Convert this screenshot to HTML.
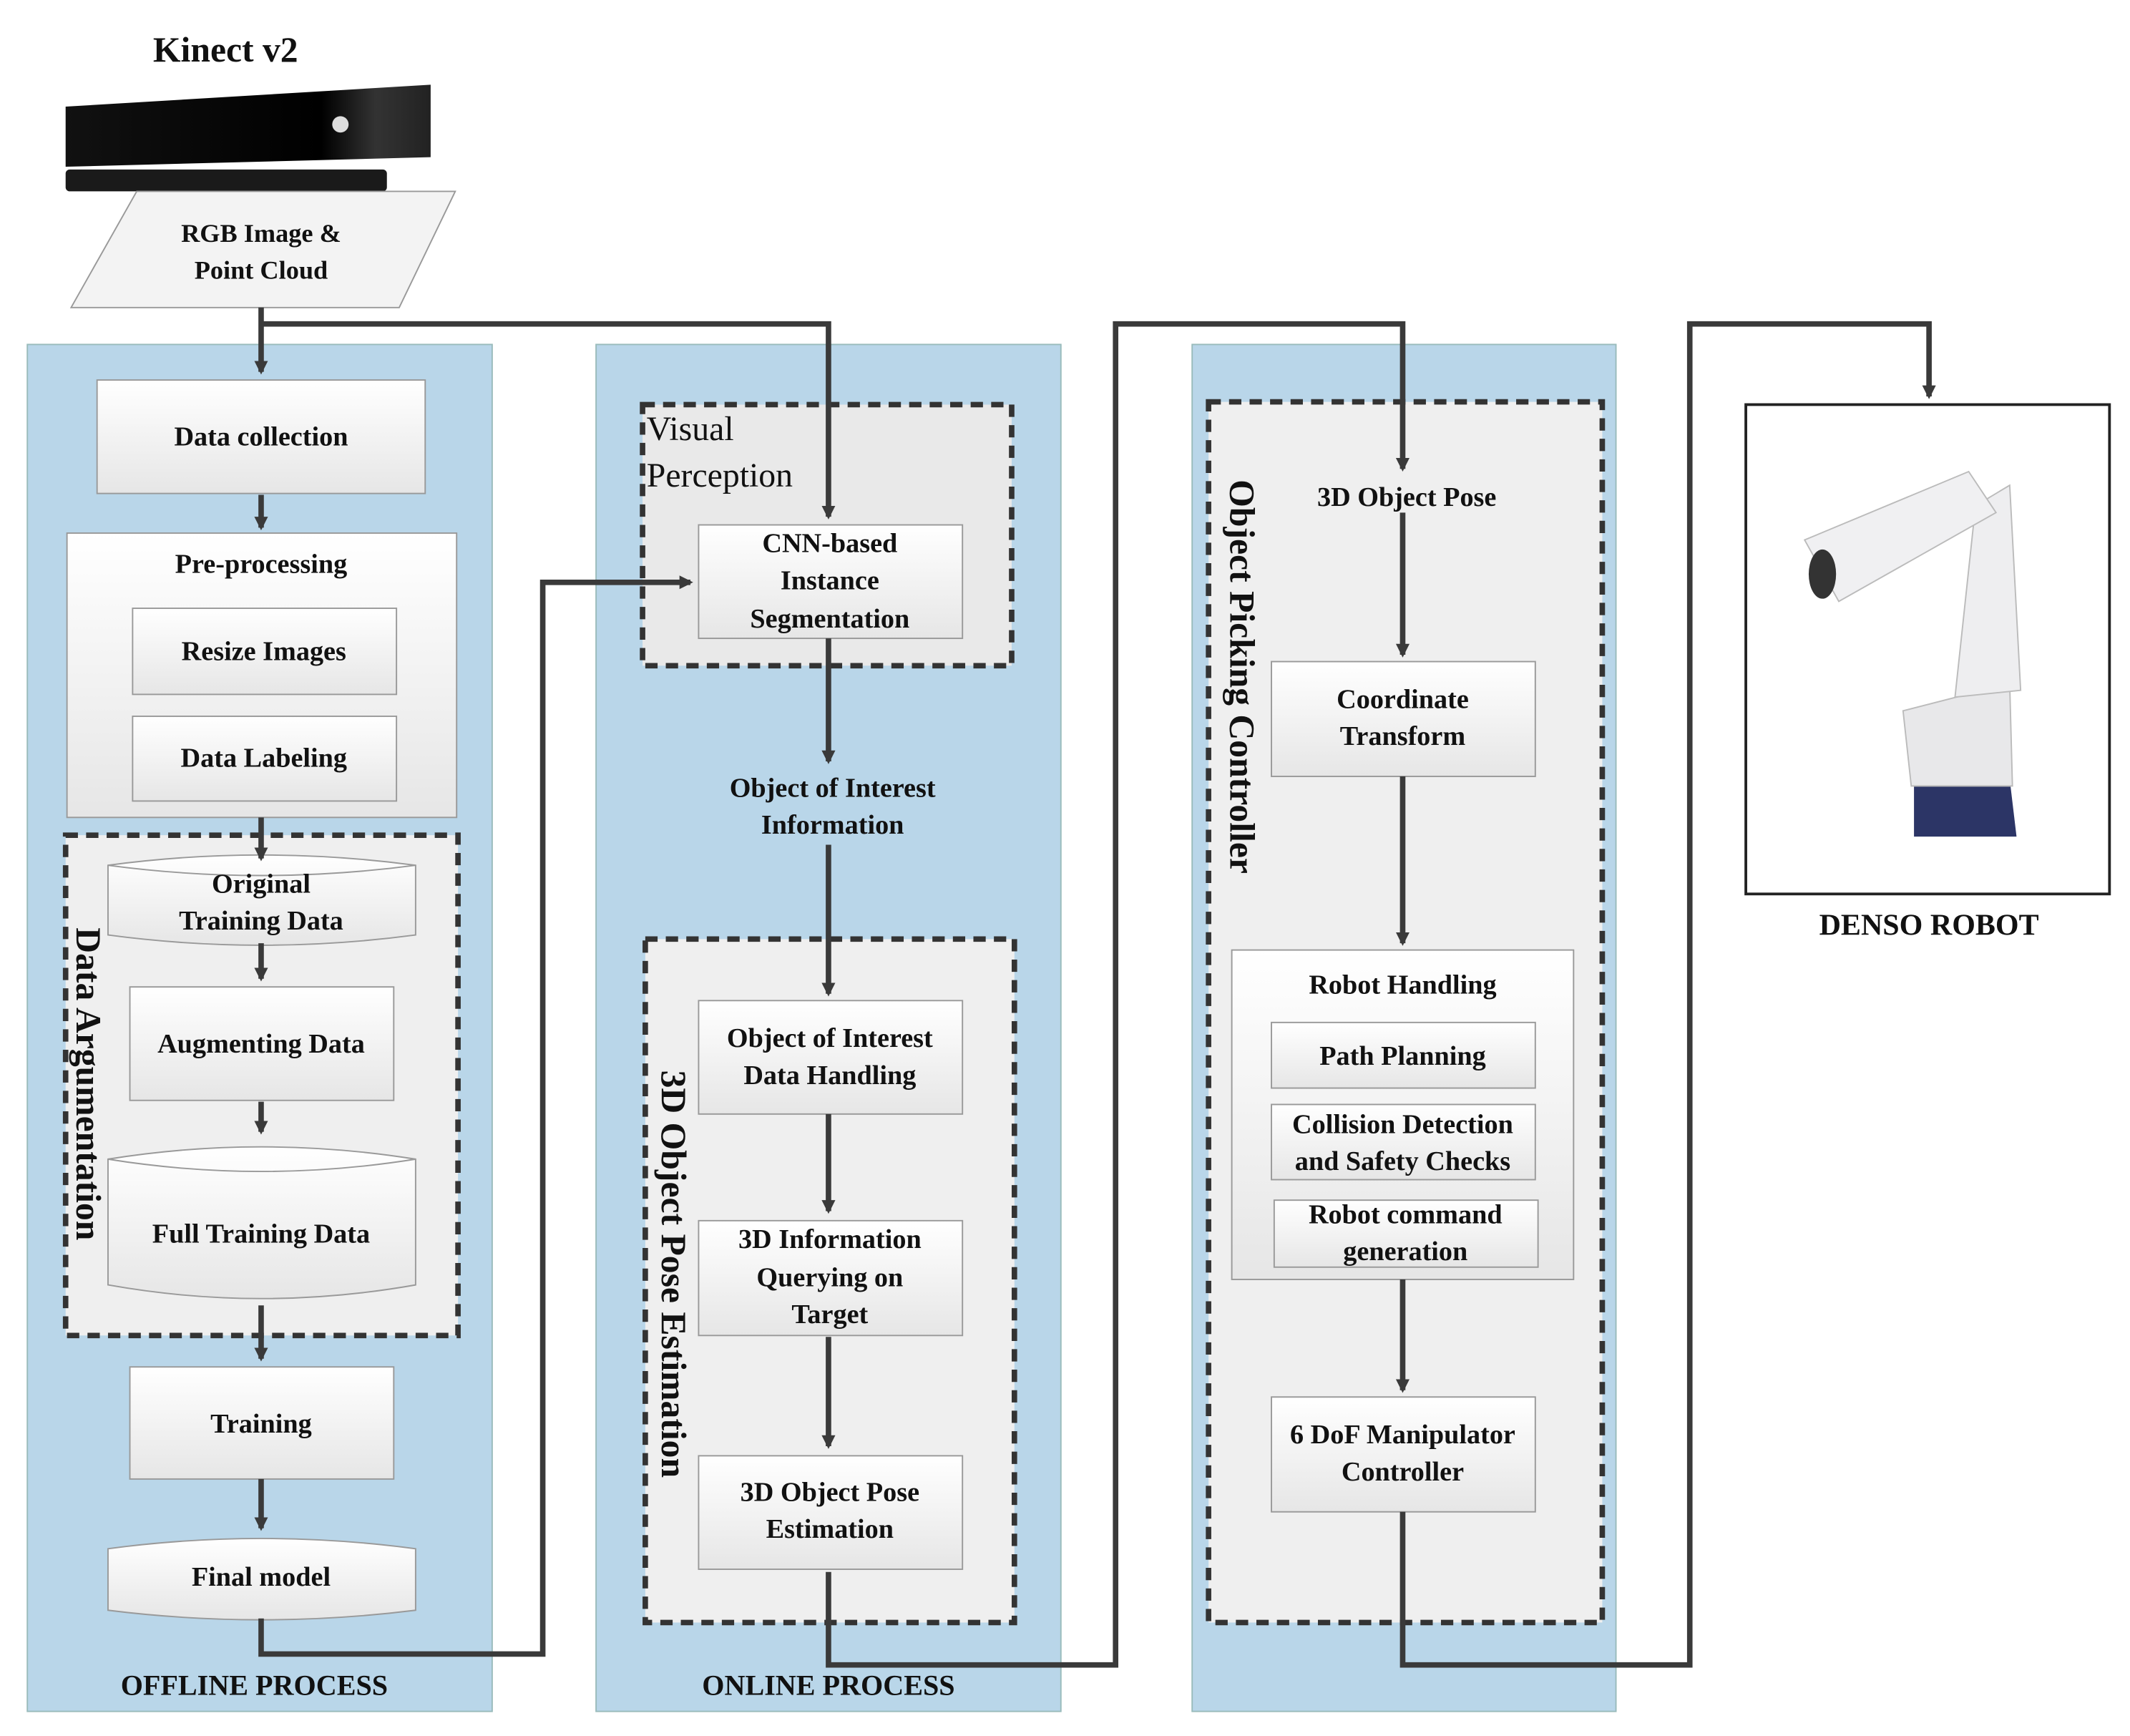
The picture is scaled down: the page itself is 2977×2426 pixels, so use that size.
<!DOCTYPE html>
<html><head><meta charset="utf-8"><style>
html,body{margin:0;padding:0;background:#fff;}
svg{display:block;}
text{font-family:"Liberation Serif",serif;font-weight:bold;fill:#111;}
</style></head><body>
<svg width="2977" height="2426" viewBox="0 0 1558 1270" preserveAspectRatio="none" xmlns="http://www.w3.org/2000/svg">
<defs>
<linearGradient id="bx" x1="0" y1="0" x2="0" y2="1"><stop offset="0" stop-color="#ffffff"/><stop offset="1" stop-color="#e6e6e6"/></linearGradient>
<linearGradient id="kn" x1="0" y1="0" x2="1" y2="0"><stop offset="0" stop-color="#111"/><stop offset="0.7" stop-color="#000"/><stop offset="0.85" stop-color="#333"/><stop offset="1" stop-color="#222"/></linearGradient>
<marker id="ar" markerWidth="10" markerHeight="10" refX="8" refY="5" orient="auto" markerUnits="userSpaceOnUse"><path d="M0,0 L10,5 L0,10 Z" fill="#3a3a3a"/></marker>
</defs>
<!-- panels -->
<rect x="20" y="252" width="340" height="1000" fill="#b9d6e9" stroke="#9bb" stroke-width="1"/>
<rect x="436" y="252" width="340" height="1000" fill="#b9d6e9" stroke="#9bb" stroke-width="1"/>
<rect x="872" y="252" width="310" height="1000" fill="#b9d6e9" stroke="#9bb" stroke-width="1"/>
<text x="186" y="1240" font-size="21" text-anchor="middle">OFFLINE PROCESS</text>
<text x="606" y="1240" font-size="21" text-anchor="middle">ONLINE PROCESS</text>

<!-- Kinect -->
<text x="165" y="45" font-size="26" text-anchor="middle">Kinect v2</text>
<path d="M48,78 L315,62 L315,115 L48,122 Z" fill="url(#kn)"/>
<rect x="48" y="124" width="235" height="16" rx="3" fill="#1a1a1a"/>
<circle cx="249" cy="91" r="6" fill="#ddd"/>
<path d="M52,225 L100,140 L333,140 L292,225 Z" fill="#f3f3f3" stroke="#999" stroke-width="1"/>
<text x="191" y="177" font-size="19" text-anchor="middle">RGB Image &amp;</text>
<text x="191" y="204" font-size="19" text-anchor="middle">Point Cloud</text>

<!-- offline boxes -->
<rect x="71" y="278" width="240" height="83" fill="url(#bx)" stroke="#999"/>
<text x="191" y="326" font-size="20" text-anchor="middle">Data collection</text>
<rect x="49" y="390" width="285" height="208" fill="url(#bx)" stroke="#999"/>
<text x="191" y="419" font-size="20" text-anchor="middle">Pre-processing</text>
<rect x="97" y="445" width="193" height="63" fill="url(#bx)" stroke="#999"/>
<text x="193" y="483" font-size="20" text-anchor="middle">Resize Images</text>
<rect x="97" y="524" width="193" height="62" fill="url(#bx)" stroke="#999"/>
<text x="193" y="561" font-size="20" text-anchor="middle">Data Labeling</text>
<rect x="48" y="611" width="287" height="366" fill="#efefef" stroke="#333" stroke-width="4" stroke-dasharray="9,6"/>
<text transform="translate(56,793) rotate(90)" font-size="26" text-anchor="middle">Data Argumentation</text>
<path d="M79,633 Q191,618 304,633 L304,684 Q191,699 79,684 Z" fill="url(#bx)" stroke="#999"/>
<path d="M79,633 Q191,648 304,633" fill="none" stroke="#999"/>
<text x="191" y="653" font-size="20" text-anchor="middle">Original</text>
<text x="191" y="680" font-size="20" text-anchor="middle">Training Data</text>
<rect x="95" y="722" width="193" height="83" fill="url(#bx)" stroke="#999"/>
<text x="191" y="770" font-size="20" text-anchor="middle">Augmenting Data</text>
<path d="M79,848 Q191,830 304,848 L304,940 Q191,960 79,940 Z" fill="url(#bx)" stroke="#999"/>
<path d="M79,848 Q191,866 304,848" fill="none" stroke="#999"/>
<text x="191" y="909" font-size="20" text-anchor="middle">Full Training Data</text>
<rect x="95" y="1000" width="193" height="82" fill="url(#bx)" stroke="#999"/>
<text x="191" y="1048" font-size="20" text-anchor="middle">Training</text>
<path d="M79,1133 Q191,1118 304,1133 L304,1178 Q191,1192 79,1178 Z" fill="url(#bx)" stroke="#999"/>
<text x="191" y="1160" font-size="20" text-anchor="middle">Final model</text>

<!-- online -->
<rect x="470" y="296" width="270" height="191" fill="#e9e9e9" stroke="#333" stroke-width="4" stroke-dasharray="9,6"/>
<text x="473" y="322" font-size="25" style="font-weight:normal">Visual</text>
<text x="473" y="356" font-size="25" style="font-weight:normal">Perception</text>
<rect x="511" y="384" width="193" height="83" fill="url(#bx)" stroke="#999"/>
<text x="607" y="404" font-size="20" text-anchor="middle">CNN-based</text>
<text x="607" y="431" font-size="20" text-anchor="middle">Instance</text>
<text x="607" y="459" font-size="20" text-anchor="middle">Segmentation</text>
<text x="609" y="583" font-size="20" text-anchor="middle">Object of Interest</text>
<text x="609" y="610" font-size="20" text-anchor="middle">Information</text>
<rect x="472" y="687" width="270" height="500" fill="#efefef" stroke="#333" stroke-width="4" stroke-dasharray="9,6"/>
<text transform="translate(484,932) rotate(90)" font-size="26" text-anchor="middle">3D Object Pose Estimation</text>
<rect x="511" y="732" width="193" height="83" fill="url(#bx)" stroke="#999"/>
<text x="607" y="766" font-size="20" text-anchor="middle">Object of Interest</text>
<text x="607" y="793" font-size="20" text-anchor="middle">Data Handling</text>
<rect x="511" y="893" width="193" height="84" fill="url(#bx)" stroke="#999"/>
<text x="607" y="913" font-size="20" text-anchor="middle">3D Information</text>
<text x="607" y="941" font-size="20" text-anchor="middle">Querying on</text>
<text x="607" y="968" font-size="20" text-anchor="middle">Target</text>
<rect x="511" y="1065" width="193" height="83" fill="url(#bx)" stroke="#999"/>
<text x="607" y="1098" font-size="20" text-anchor="middle">3D Object Pose</text>
<text x="607" y="1125" font-size="20" text-anchor="middle">Estimation</text>

<!-- controller -->
<rect x="884" y="294" width="288" height="893" fill="#efefef" stroke="#333" stroke-width="4" stroke-dasharray="9,6"/>
<text transform="translate(900,495) rotate(90)" font-size="26" text-anchor="middle">Object Picking Controller</text>
<text x="1029" y="370" font-size="20" text-anchor="middle">3D Object Pose</text>
<rect x="930" y="484" width="193" height="84" fill="url(#bx)" stroke="#999"/>
<text x="1026" y="518" font-size="20" text-anchor="middle">Coordinate</text>
<text x="1026" y="545" font-size="20" text-anchor="middle">Transform</text>
<rect x="901" y="695" width="250" height="241" fill="url(#bx)" stroke="#999"/>
<text x="1026" y="727" font-size="20" text-anchor="middle">Robot Handling</text>
<rect x="930" y="748" width="193" height="48" fill="url(#bx)" stroke="#999"/>
<text x="1026" y="779" font-size="20" text-anchor="middle">Path Planning</text>
<rect x="930" y="808" width="193" height="55" fill="url(#bx)" stroke="#999"/>
<text x="1026" y="829" font-size="20" text-anchor="middle">Collision Detection</text>
<text x="1026" y="856" font-size="20" text-anchor="middle">and Safety Checks</text>
<rect x="932" y="878" width="193" height="49" fill="url(#bx)" stroke="#999"/>
<text x="1028" y="895" font-size="20" text-anchor="middle">Robot command</text>
<text x="1028" y="922" font-size="20" text-anchor="middle">generation</text>
<rect x="930" y="1022" width="193" height="84" fill="url(#bx)" stroke="#999"/>
<text x="1026" y="1056" font-size="20" text-anchor="middle">6 DoF Manipulator</text>
<text x="1026" y="1083" font-size="20" text-anchor="middle">Controller</text>

<!-- robot -->
<rect x="1277" y="296" width="266" height="358" fill="#fff" stroke="#222" stroke-width="2"/>
<path d="M1400,570 L1470,570 L1475,612 L1400,612 Z" fill="#2c3566"/>
<path d="M1392,520 L1470,500 L1472,575 L1398,575 Z" fill="#e8e8ea" stroke="#bbb"/>
<path d="M1430,510 L1445,370 L1470,355 L1478,505 Z" fill="#eeeef0" stroke="#bbb"/>
<path d="M1320,395 L1440,345 L1460,375 L1345,440 Z" fill="#f0f0f2" stroke="#bbb"/>
<ellipse cx="1333" cy="420" rx="10" ry="18" fill="#333"/>
<text x="1411" y="684" font-size="22" text-anchor="middle">DENSO ROBOT</text>

<!-- connectors on top -->
<g fill="none" stroke="#3a3a3a" stroke-width="4">
<path d="M191,225 L191,272" marker-end="url(#ar)"/>
<path d="M191,237 L606,237 L606,378" marker-end="url(#ar)"/>
<path d="M191,362 L191,386" marker-end="url(#ar)"/>
<path d="M191,598 L191,628" marker-end="url(#ar)"/>
<path d="M191,690 L191,716" marker-end="url(#ar)"/>
<path d="M191,806 L191,828" marker-end="url(#ar)"/>
<path d="M191,955 L191,994" marker-end="url(#ar)"/>
<path d="M191,1082 L191,1118" marker-end="url(#ar)"/>
<path d="M191,1184 L191,1210 L397,1210 L397,426 L505,426" marker-end="url(#ar)"/>
<path d="M606,467 L606,557" marker-end="url(#ar)"/>
<path d="M606,618 L606,727" marker-end="url(#ar)"/>
<path d="M606,815 L606,886" marker-end="url(#ar)"/>
<path d="M606,978 L606,1058" marker-end="url(#ar)"/>
<path d="M606,1150 L606,1218 L816,1218 L816,237 L1026,237 L1026,343" marker-end="url(#ar)"/>
<path d="M1026,375 L1026,479" marker-end="url(#ar)"/>
<path d="M1026,568 L1026,690" marker-end="url(#ar)"/>
<path d="M1026,936 L1026,1017" marker-end="url(#ar)"/>
<path d="M1026,1106 L1026,1218 L1236,1218 L1236,237 L1411,237 L1411,290" marker-end="url(#ar)"/>
</g>
</svg>
</body></html>
